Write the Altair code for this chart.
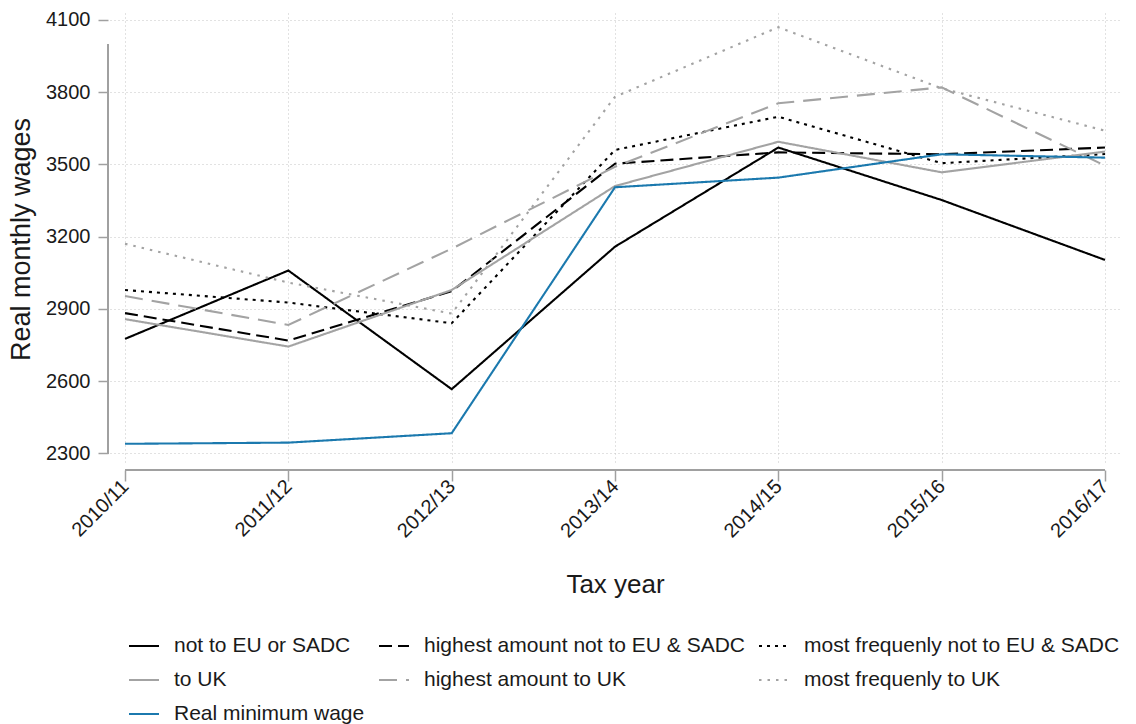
import altair as alt
import pandas as pd

# Tax years on the horizontal axis
years = ["2010/11", "2011/12", "2012/13", "2013/14", "2014/15", "2015/16", "2016/17"]

# Series labels, in legend order (row by row, three per row)
series_names = [
    "not to EU or SADC",
    "highest amount not to EU & SADC",
    "most frequenly not to EU & SADC",
    "to UK",
    "highest amount to UK",
    "most frequenly to UK",
    "Real minimum wage",
]

# Real monthly wages per series
not_eu_sadc = [2775, 3059, 2566, 3158, 3570, 3352, 3103]
highest_not_eu_sadc = [2882, 2768, 2973, 3503, 3550, 3542, 3570]
frequent_not_eu_sadc = [2978, 2926, 2840, 3560, 3698, 3505, 3543]
to_uk = [2857, 2743, 2978, 3410, 3594, 3467, 3553]
highest_to_uk = [2953, 2833, 3150, 3490, 3754, 3820, 3495]
frequent_to_uk = [3170, 3009, 2880, 3781, 4070, 3816, 3640]
real_min_wage = [2339, 2344, 2383, 3405, 3445, 3542, 3528]

series_values = [
    not_eu_sadc,
    highest_not_eu_sadc,
    frequent_not_eu_sadc,
    to_uk,
    highest_to_uk,
    frequent_to_uk,
    real_min_wage,
]

# Axis ticks and the span of the vertical axis line
y_ticks = [2300, 2600, 2900, 3200, 3500, 3800, 4100]
y_axis_span = [2300, 4000]

GRAY = "#a3a3a3"
BLUE = "#1b79ae"
AXIS_GRAY = "#a0a0a0"
line_colors = ["#000000", "#000000", "#000000", GRAY, GRAY, GRAY, BLUE]
line_dashes = [[1, 0], [13, 6], [3, 5], [1, 0], [18, 9], [2.5, 6], [1, 0]]

rows = []
for name, vals in zip(series_names, series_values):
    for yr, v in zip(years, vals):
        rows.append({"year": yr, "series": name, "wage": v})
df = pd.DataFrame(rows)

# A vertical legend with several columns takes its entries column by column
# before flowing them into rows; arrange the domain so that the entries
# read row by row in the order of series_names.
N_COLS = 3
n = len(series_names)
n_rows = -(-n // N_COLS)
traversal = []
for c in range(N_COLS):
    for r in range(n_rows):
        i = r * N_COLS + c
        if i < n:
            traversal.append(i)
slot = [0] * n
for pos, idx in enumerate(traversal):
    slot[idx] = pos
domain = [series_names[slot[i]] for i in range(n)]
color_range = [line_colors[slot[i]] for i in range(n)]
dash_range = [line_dashes[slot[i]] for i in range(n)]

W, H = 1010, 452

legend = alt.Legend(
    title=None,
    orient="none",
    legendX=18,
    legendY=617,
    columns=N_COLS,
    columnPadding=10,
    rowPadding=8,
    symbolType="stroke",
    symbolSize=900,
    symbolStrokeWidth=2,
    labelFontSize=21,
    labelOffset=14,
    labelLimit=0,
    padding=0,
)

x_enc = alt.X(
    "year:O",
    sort=years,
    scale=alt.Scale(type="point", padding=0.092),
    axis=alt.Axis(
        title="Tax year",
        titleFontSize=26,
        titleFontWeight="normal",
        titlePadding=30,
        labelAngle=315,
        labelFontSize=20,
        labelPadding=2,
        tickSize=11,
        tickColor=AXIS_GRAY,
        tickWidth=1.5,
        offset=5,
        domain=False,
        grid=True,
        gridDash=[1, 3],
        gridColor="#c4c4c4",
        gridWidth=1,
    ),
)

y_enc = alt.Y(
    "wage:Q",
    scale=alt.Scale(domain=[2251, 4129], nice=False, zero=False),
    axis=alt.Axis(
        title="Real monthly wages",
        titleFontSize=27,
        titleFontWeight="normal",
        titlePadding=10,
        values=y_ticks,
        format="d",
        labelFontSize=20,
        labelPadding=8,
        tickSize=10,
        tickColor=AXIS_GRAY,
        tickWidth=1.5,
        offset=2,
        domain=False,
        grid=True,
        gridDash=[1, 3],
        gridColor="#c4c4c4",
        gridWidth=1,
    ),
)

lines = alt.Chart(df).mark_line(strokeWidth=2.1, strokeCap="butt").encode(
    x=x_enc,
    y=y_enc,
    color=alt.Color(
        "series:N",
        scale=alt.Scale(domain=domain, range=color_range),
        legend=legend,
    ),
    strokeDash=alt.StrokeDash(
        "series:N",
        scale=alt.Scale(domain=domain, range=dash_range),
        legend=legend,
    ),
)

# Axis lines, set slightly apart from the plotting region
x_axis_line = alt.Chart(df).mark_rule(color=AXIS_GRAY, strokeWidth=2).encode(
    x=alt.datum(years[0]),
    x2=alt.datum(years[-1]),
    y=alt.value(H + 5),
)
y_axis_line = alt.Chart(df).mark_rule(color=AXIS_GRAY, strokeWidth=2).encode(
    x=alt.value(-2),
    y=alt.datum(y_axis_span[0]),
    y2=alt.datum(y_axis_span[1]),
)

chart = (
    alt.layer(x_axis_line, y_axis_line, lines)
    .properties(
        width=W,
        height=H,
        autosize=alt.AutoSizeParams(type="none"),
        padding={"left": 110, "top": 13, "right": 16, "bottom": 259},
    )
    .configure(font="Liberation Sans")
    .configure_view(stroke=None)
    .configure_axis(labelColor="#1a1a1a", titleColor="#1a1a1a")
    .configure_legend(labelColor="#1a1a1a")
)

chart.save("out.html", embed_options={"renderer": "svg", "actions": False})
